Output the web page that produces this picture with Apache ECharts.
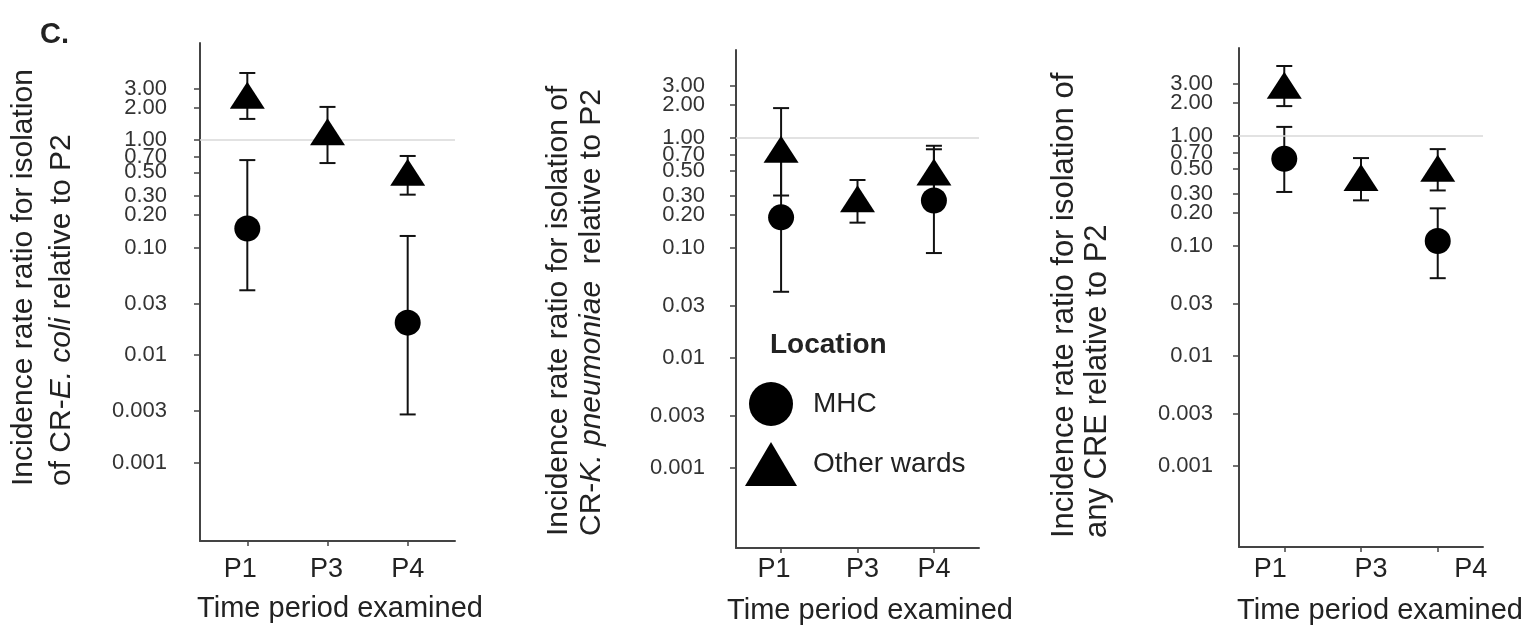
<!DOCTYPE html>
<html><head><meta charset="utf-8">
<script src="https://cdn.jsdelivr.net/npm/echarts@6/dist/echarts.min.js"></script>
<style>html,body{margin:0;padding:0;background:#fff}#c{width:1525px;height:627px}</style>
</head><body><div id="c"></div>
<script>
// ---------- data ----------
const categories = ['P1', 'P3', 'P4'];
const tickValues = [3, 2, 1, 0.7, 0.5, 0.3, 0.2, 0.1, 0.03, 0.01, 0.003, 0.001];
const tickLabels = ['3.00', '2.00', '1.00', '0.70', '0.50', '0.30', '0.20', '0.10', '0.03', '0.01', '0.003', '0.001'];
const seriesNames = ['MHC', 'Other wards'];
const referenceValue = 1;
const xTitle = 'Time period examined';
const legendTitle = 'Location';
const panelLetter = 'C.';

// Panel 1: CR-E. coli
const ecoliMHC = [0.15, null, 0.020];
const ecoliMHCLow = [0.040, null, 0.0028];
const ecoliMHCHigh = [0.65, null, 0.128];
const ecoliOther = [2.6, 1.19, 0.50];
const ecoliOtherLow = [1.57, 0.61, 0.31];
const ecoliOtherHigh = [4.2, 2.03, 0.71];

// Panel 2: CR-K. pneumoniae
const kpMHC = [0.19, null, 0.27];
const kpMHCLow = [0.040, null, 0.090];
const kpMHCHigh = [0.75, null, 0.79];
const kpOther = [0.79, 0.28, 0.49];
const kpOtherLow = [0.30, 0.17, 0.28];
const kpOtherHigh = [1.87, 0.415, 0.85];

// Panel 3: any CRE
const creMHC = [0.62, null, 0.111];
const creMHCLow = [0.31, null, 0.051];
const creMHCHigh = [1.21, null, 0.22];
const creOther = [2.9, 0.42, 0.51];
const creOtherLow = [1.87, 0.26, 0.32];
const creOtherHigh = [4.33, 0.63, 0.76];

const yTitles = [
  '{n|Incidence rate ratio for isolation}\n{n|of CR-}{i|E. coli}{n| relative to P2}',
  '{n|Incidence rate ratio for isolation of}\n{n|CR-}{i|K. pneumoniae}{n|  relative to P2}',
  '{n|Incidence rate ratio for isolation of}\n{n|any CRE relative to P2}'
];

const panels = [
  { mhc: ecoliMHC, mhcLow: ecoliMHCLow, mhcHigh: ecoliMHCHigh, other: ecoliOther, otherLow: ecoliOtherLow, otherHigh: ecoliOtherHigh },
  { mhc: kpMHC, mhcLow: kpMHCLow, mhcHigh: kpMHCHigh, other: kpOther, otherLow: kpOtherLow, otherHigh: kpOtherHigh },
  { mhc: creMHC, mhcLow: creMHCLow, mhcHigh: creMHCHigh, other: creOther, otherLow: creOtherLow, otherHigh: creOtherHigh }
];

// ---------- layout / style ----------
const FONT = '"Liberation Sans", Arial, Helvetica, sans-serif';
const X_MIN = -0.59, X_MAX = 2.59;
const layout = [
  { grid: { left: 200, top: 43, width: 255, height: 498 }, yMin: Math.pow(10, -3.73), yMax: Math.pow(10, 0.902),
    yLabelMargin: 33, xLabelMargin: 15, labelShift: [-7, -1, 0],
    yTitle: { x: 5, y: 486, lh: 38, fs: 30 }, xTitlePos: { x: 340, y: 609 } },
  { grid: { left: 736, top: 50, width: 243, height: 498 }, yMin: Math.pow(10, -3.727), yMax: Math.pow(10, 0.8),
    yLabelMargin: 31, xLabelMargin: 8.5, labelShift: [-7, 5, 0],
    yTitle: { x: 542, y: 536, lh: 33, fs: 30 }, xTitlePos: { x: 870, y: 611 } },
  { grid: { left: 1239, top: 48, width: 244, height: 499 }, yMin: Math.pow(10, -3.736), yMax: Math.pow(10, 0.8),
    yLabelMargin: 26, xLabelMargin: 9.5, labelShift: [-14, 10, 33],
    yTitle: { x: 1048, y: 538, lh: 33, fs: 31 }, xTitlePos: { x: 1380, y: 611 } }
];

function pts(vals) {
  const out = [];
  vals.forEach((v, k) => { if (v != null) out.push([k, v]); });
  return out;
}
function bars(low, high) {
  const out = [];
  low.forEach((v, k) => { if (v != null && high[k] != null) out.push([k, v, high[k]]); });
  return out;
}
function renderErr(params, api) {
  const k = api.value(0);
  const lo = api.coord([k, api.value(1)]);
  const hi = api.coord([k, api.value(2)]);
  const hw = 8;
  const st = { stroke: '#111', lineWidth: 2 };
  return { type: 'group', children: [
    { type: 'line', shape: { x1: lo[0], y1: lo[1], x2: hi[0], y2: hi[1] }, style: st },
    { type: 'line', shape: { x1: lo[0] - hw, y1: lo[1], x2: lo[0] + hw, y2: lo[1] }, style: st },
    { type: 'line', shape: { x1: hi[0] - hw, y1: hi[1], x2: hi[0] + hw, y2: hi[1] }, style: st }
  ]};
}
function labelFor(v) {
  let best = 0, bd = Infinity;
  tickValues.forEach((t, i) => { const d = Math.abs(Math.log(t) - Math.log(v)); if (d < bd) { bd = d; best = i; } });
  return tickLabels[best];
}
const catIdx = categories.map((c, k) => k);
// the top tick sits on an overlay axis so that ECharts' min/max label overlap rule does not drop a label
const topTicks = tickValues.slice(0, 1);
const mainTicks = tickValues.slice(1);

function yAxisDef(i, L, ticks, showLine) {
  return {
    type: 'log', gridIndex: i, min: L.yMin, max: L.yMax, logBase: 10, position: 'left', offset: 0,
    axisLine: { show: showLine, onZero: false, lineStyle: { color: '#444', width: 2 } },
    axisTick: { show: true, length: 6, customValues: ticks, lineStyle: { color: '#444', width: 1.5 } },
    axisLabel: { customValues: ticks, margin: L.yLabelMargin, fontSize: 22, color: '#333', fontFamily: FONT,
      showMinLabel: true, showMaxLabel: true, hideOverlap: false,
      formatter: (v) => labelFor(v) },
    splitLine: { show: false },
    minorTick: { show: false }, minorSplitLine: { show: false }
  };
}

const grids = [], xAxes = [], yAxes = [], series = [], graphics = [];
layout.forEach((L, i) => {
  const P = panels[i];
  grids.push(Object.assign({ containLabel: false }, L.grid));
  const rich = {};
  catIdx.forEach(k => {
    const dx = L.labelShift[k];
    rich['s' + k] = { fontSize: 27, lineHeight: 27, color: '#222', fontFamily: FONT,
      padding: dx >= 0 ? [0, 0, 0, 2 * dx] : [0, -2 * dx, 0, 0] };
  });
  xAxes.push({
    type: 'value', gridIndex: i, min: X_MIN, max: X_MAX,
    axisLine: { show: true, onZero: false, lineStyle: { color: '#444', width: 2 } },
    axisTick: { show: true, length: 5, customValues: catIdx, lineStyle: { color: '#444', width: 1.5 } },
    axisLabel: { customValues: catIdx, margin: L.xLabelMargin, fontSize: 27, color: '#222', fontFamily: FONT,
      showMinLabel: true, showMaxLabel: true, hideOverlap: false,
      formatter: (v) => { const k = Math.round(v); return '{s' + k + '|' + categories[k] + '}'; }, rich: rich },
    splitLine: { show: false }
  });
  const yMain = yAxes.length;
  yAxes.push(yAxisDef(i, L, mainTicks, true));
  yAxes.push(yAxisDef(i, L, topTicks, false));

  series.push({
    name: seriesNames[0], type: 'scatter', xAxisIndex: i, yAxisIndex: yMain, z: 5,
    symbol: 'circle', symbolSize: 26, itemStyle: { color: '#000', opacity: 1 },
    data: pts(P.mhc),
    markLine: { silent: true, symbol: 'none', label: { show: false },
      lineStyle: { color: '#d9d9d9', type: 'solid', width: 1.5 }, data: [{ yAxis: referenceValue }] }
  });
  series.push({
    name: seriesNames[1], type: 'scatter', xAxisIndex: i, yAxisIndex: yMain, z: 5,
    symbol: 'triangle', symbolSize: [35, 27], itemStyle: { color: '#000', opacity: 1 },
    data: pts(P.other)
  });
  series.push({ type: 'custom', name: 'mhc-ci', xAxisIndex: i, yAxisIndex: yMain, z: 4, renderItem: renderErr,
    encode: { x: 0, y: [1, 2] }, data: bars(P.mhcLow, P.mhcHigh) });
  series.push({ type: 'custom', name: 'other-ci', xAxisIndex: i, yAxisIndex: yMain, z: 4, renderItem: renderErr,
    encode: { x: 0, y: [1, 2] }, data: bars(P.otherLow, P.otherHigh) });

  graphics.push({
    type: 'text', x: L.yTitle.x, y: L.yTitle.y, rotation: Math.PI / 2,
    style: { text: yTitles[i], align: 'left', verticalAlign: 'top', fill: '#222',
      rich: {
        n: { fontSize: L.yTitle.fs, fontFamily: FONT, lineHeight: L.yTitle.lh, fill: '#222' },
        i: { fontSize: L.yTitle.fs, fontFamily: FONT, fontStyle: 'italic', lineHeight: L.yTitle.lh, fill: '#222' }
      } }
  });
  graphics.push({
    type: 'text', x: L.xTitlePos.x, y: L.xTitlePos.y,
    style: { text: xTitle, align: 'center', verticalAlign: 'middle', fontSize: 29, fontFamily: FONT, fill: '#222' }
  });
});

graphics.push({ type: 'text', x: 770, y: 345,
  style: { text: legendTitle, align: 'left', verticalAlign: 'middle', fontSize: 28, fontWeight: 'bold', fontFamily: FONT, fill: '#222' } });

const chart = echarts.init(document.getElementById('c'), null, { renderer: 'canvas' });
chart.setOption({
  animation: false,
  backgroundColor: '#fff',
  title: { text: panelLetter, left: 35, top: 15, textStyle: { fontSize: 29, fontWeight: 'bold', fontFamily: FONT, color: '#222' } },
  legend: {
    data: [{ name: seriesNames[0], icon: 'circle' }, { name: seriesNames[1], icon: 'triangle' }],
    orient: 'vertical', left: 740, top: 377, itemWidth: 52, itemHeight: 44, itemGap: 16, selectedMode: false,
    textStyle: { fontSize: 28, color: '#222', fontFamily: FONT, padding: [0, 0, 0, 11] }
  },
  grid: grids, xAxis: xAxes, yAxis: yAxes, series: series, graphic: graphics
});
</script></body></html>
